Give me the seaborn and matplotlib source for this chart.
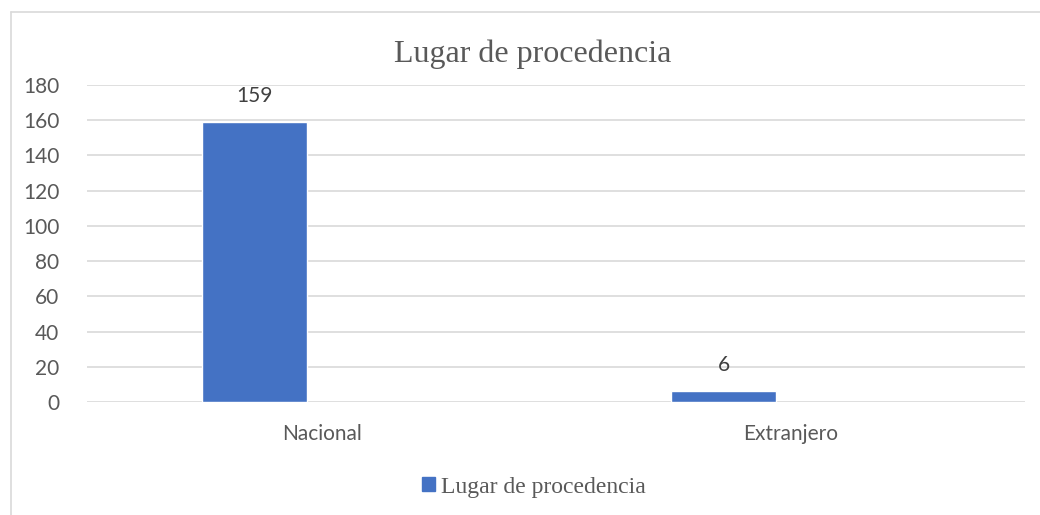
import matplotlib
matplotlib.use("Agg")
import matplotlib.pyplot as plt
import matplotlib.patches as mpatches
from matplotlib.lines import Line2D
import pandas as pd
import seaborn as sns

# data
categories = ["Nacional", "Extranjero"]
values = [159, 6]
series_name = "Lugar de procedencia"
yticks = [0, 20, 40, 60, 80, 100, 120, 140, 160, 180]

bar_color = "#4472C4"
grid_color = "#D9D9D9"
text_color = "#595959"

df = pd.DataFrame({"Categoria": categories, "Valor": values, "Serie": series_name})
# empty second slot so the bar sits left of the category centre like in Excel
df_empty = pd.DataFrame({"Categoria": categories, "Valor": [0, 0], "Serie": "_vacio"})
data = pd.concat([df, df_empty], ignore_index=True)

sns.set_theme(style="white")
plt.rcParams["font.family"] = ["Lato", "DejaVu Sans"]

fig = plt.figure(figsize=(10.4, 5.15), dpi=100)
ax = fig.add_axes([0.0837, 0.2194, 0.902, 0.6156])

sns.barplot(data=data, x="Categoria", y="Valor", hue="Serie", order=categories,
            hue_order=[series_name, "_vacio"], palette=[bar_color, bar_color],
            width=0.572, gap=0.217, legend=False, ax=ax, saturation=1)

# hide the empty slot bars
for p in ax.patches[len(categories):]:
    p.set_visible(False)

# value labels above the bars
for p, v in zip(ax.patches[:len(categories)], values):
    ax.annotate(str(v), (p.get_x() + p.get_width() / 2, p.get_height()),
                xytext=(0, 19), textcoords="offset points", ha="center", va="center",
                fontsize=15, color="#404040")

ax.set_ylim(0, 180)
ax.set_xlim(-0.5, 1.5)
ax.set_yticks(yticks)
ax.yaxis.grid(True, color=grid_color, linewidth=1.2)
ax.set_axisbelow(True)
for s in ax.spines.values():
    s.set_visible(False)
ax.tick_params(axis="y", length=0, pad=20, labelsize=15, labelcolor=text_color)
ax.tick_params(axis="x", length=0, pad=16, labelsize=15, labelcolor=text_color)
ax.set_xlabel("")
ax.set_ylabel("")

fig.text(0.512, 0.895, series_name, ha="center", va="center", fontsize=23,
         family="Liberation Serif", color="#595959")

# legend below
handle = mpatches.Patch(color=bar_color, label=series_name)
leg = fig.legend(handles=[handle], loc="center", bbox_to_anchor=(0.513, 0.054),
                 frameon=False, handlelength=0.55, handleheight=0.55, handletextpad=0.25,
                 prop={"family": "Liberation Serif", "size": 17})
for t in leg.get_texts():
    t.set_color("#595959")

# chart area border (only top/left visible in the crop)
fig.add_artist(Line2D([11 / 1040, 11 / 1040], [0, 1 - 12 / 515], transform=fig.transFigure,
                      color="#D9D9D9", linewidth=1.2))
fig.add_artist(Line2D([11 / 1040, 1], [1 - 12 / 515, 1 - 12 / 515], transform=fig.transFigure,
                      color="#D9D9D9", linewidth=1.2))

fig.savefig("out.png", dpi=100)
